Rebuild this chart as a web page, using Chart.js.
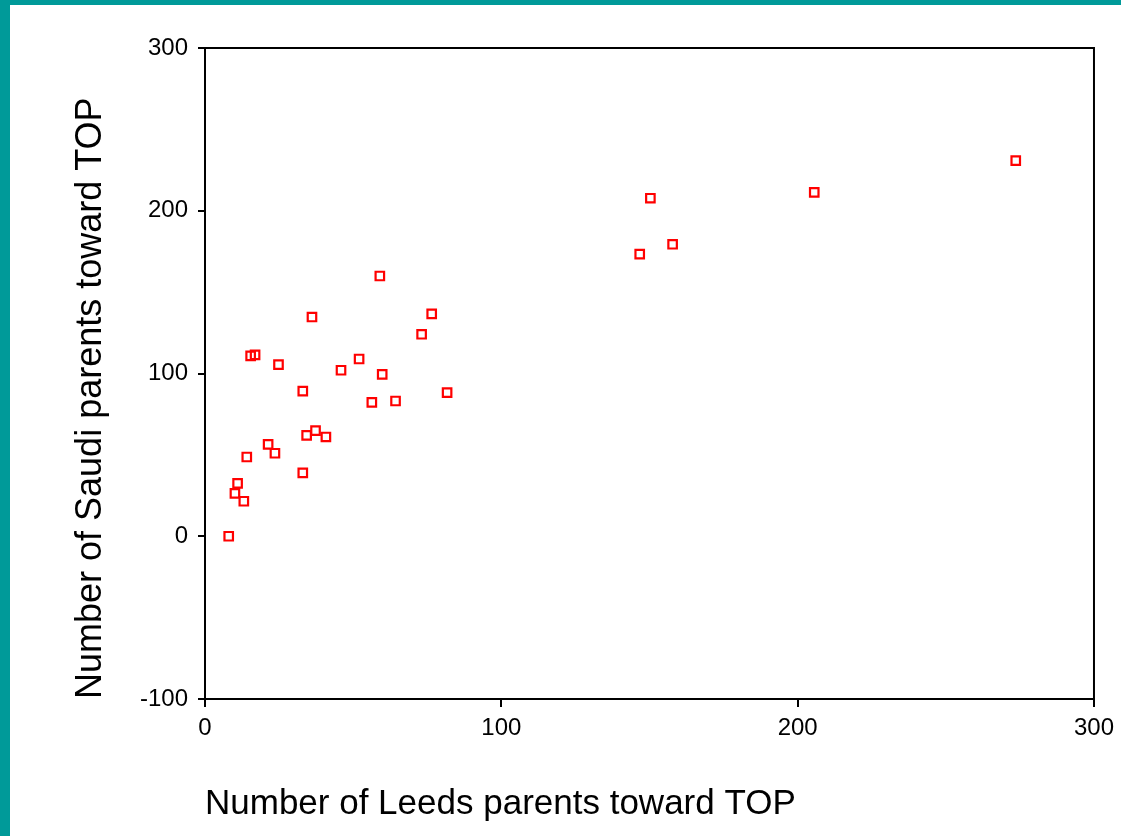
<!DOCTYPE html>
<html>
<head>
<meta charset="utf-8">
<script src="https://cdn.jsdelivr.net/npm/chart.js@4"></script>
<style>
  html, body { margin: 0; padding: 0; background: #fff; }
  #wrap { position: relative; width: 1121px; height: 836px; }
</style>
</head>
<body>
<div id="wrap"><canvas id="scatter" width="1121" height="836"></canvas></div>
<script>
// ── Data ──────────────────────────────────────────────────────────
const leedsParents = [8, 10.1, 11, 13.1, 14.1, 15.4, 16.9, 21.3, 23.6, 24.8, 33, 33, 34.3, 36.1, 37.3, 40.8, 45.9, 52, 56.3, 59, 59.8, 64.3, 73.1, 76.5, 81.7, 146.7, 150.3, 157.8, 205.6, 273.6];
const saudiParents = [0, 26.4, 32.5, 21.5, 48.7, 110.8, 111.4, 56.5, 51, 105.4, 89.2, 38.9, 62, 134.7, 64.9, 61, 102, 108.9, 82.3, 159.9, 99.5, 83.1, 124.1, 136.6, 88.2, 173.4, 207.7, 179.4, 211.3, 230.8];
const xTicks = [0, 100, 200, 300];
const yTicks = [-100, 0, 100, 200, 300];
const xTitle = "Number of Leeds parents toward TOP";
const yTitle = "Number of Saudi parents toward TOP";

const TEAL = "#009a99";
const FONT = "'Liberation Sans', Arial, sans-serif";

// slide frame + box round the plot
const framePlugin = {
  id: "frame",
  beforeDraw(chart) {
    const c = chart.ctx;
    c.save();
    c.fillStyle = "#fff";
    c.fillRect(0, 0, chart.width, chart.height);
    c.fillStyle = TEAL;
    c.fillRect(0, 0, chart.width, 5);
    c.fillRect(0, 0, 10, chart.height);
    c.restore();
  },
  afterDraw(chart) {
    const { left, top, right, bottom } = chart.chartArea;
    const c = chart.ctx;
    c.save();
    c.strokeStyle = "#000";
    c.lineWidth = 2;
    c.strokeRect(left, top, right - left, bottom - top);
    c.restore();
  }
};

const points = leedsParents.map((x, i) => ({ x, y: saudiParents[i] }));

new Chart(document.getElementById("scatter").getContext("2d"), {
  type: "scatter",
  data: {
    datasets: [{
      data: points,
      pointStyle: "rect",
      pointRadius: 6,
      pointHoverRadius: 6,
      borderColor: "#ff0000",
      backgroundColor: "rgba(0,0,0,0)",
      borderWidth: 2.2
    }]
  },
  options: {
    responsive: false,
    animation: false,
    layout: { padding: { top: 48, right: 26, bottom: 0, left: 0 } },
    plugins: { legend: { display: false }, tooltip: { enabled: false } },
    scales: {
      x: {
        type: "linear",
        min: 0, max: 300,
        afterBuildTicks: s => { s.ticks = xTicks.map(v => ({ value: v })); },
        afterFit: s => { s.height = 137; },
        grid: { drawOnChartArea: false, drawTicks: true, tickLength: 8, tickColor: "#000", lineWidth: 2 },
        border: { display: true, color: "#000", width: 2 },
        ticks: { color: "#000", padding: 7, font: { family: FONT, size: 24 } },
        title: {
          display: true, text: xTitle, align: "start", color: "#000",
          padding: { top: 0, bottom: 11 },
          font: { family: FONT, size: 35 }
        }
      },
      y: {
        type: "linear",
        min: -100, max: 300,
        afterBuildTicks: s => { s.ticks = yTicks.map(v => ({ value: v })); },
        afterFit: s => { s.width = 205; },
        grid: { drawOnChartArea: false, drawTicks: true, tickLength: 7, tickColor: "#000", lineWidth: 2 },
        border: { display: true, color: "#000", width: 2 },
        ticks: { color: "#000", padding: 10, font: { family: FONT, size: 24 } },
        title: {
          display: true, text: yTitle, align: "start", color: "#000",
          padding: { top: 69, bottom: 0 },
          font: { family: FONT, size: 36 }
        }
      }
    }
  },
  plugins: [framePlugin]
});
</script>
</body>
</html>
